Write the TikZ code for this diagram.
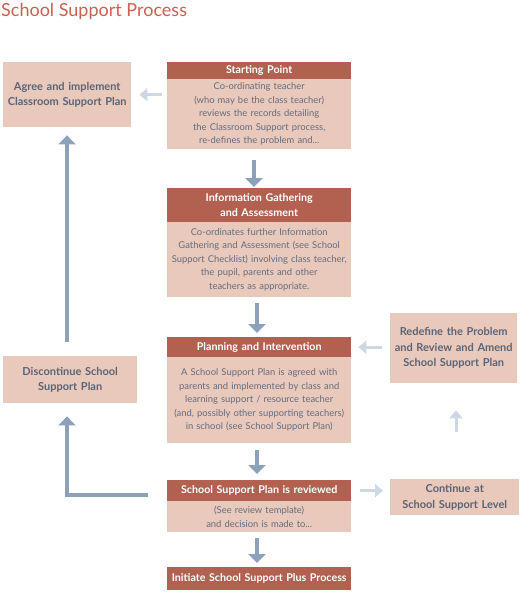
\documentclass[tikz,border=0pt]{standalone}
\usepackage{fontspec}
\setmainfont{Lato}
\usetikzlibrary{arrows.meta}
\definecolor{hdr}{HTML}{B2604F}
\definecolor{bdy}{HTML}{E9C9BC}
\definecolor{ttl}{HTML}{C8624F}
\definecolor{txt}{HTML}{5B6476}
\definecolor{btxt}{HTML}{666C7C}
\definecolor{darkarr}{HTML}{8DA2BA}
\definecolor{lightarr}{HTML}{CDD8E4}
\tikzset{
  hdrbox/.style={anchor=north west, fill=hdr, text=white, inner sep=0pt, align=center,
     font=\fontsize{10.7}{14.5}\selectfont\bfseries},
  bdybox/.style={anchor=north west, fill=bdy, text=btxt, inner sep=0pt, align=center,
     font=\fontsize{9.4}{13.5}\selectfont},
  sidebox/.style={anchor=north west, fill=bdy, text=txt, inner sep=0pt, align=center,
     font=\fontsize{11}{15.5}\selectfont\bfseries},
  darr/.style={draw=darkarr, line width=3.6pt, -{Triangle[width=17pt,length=9pt]}},
  larr/.style={draw=lightarr, line width=3pt, -{Triangle[width=13pt,length=8pt]}},
}
\begin{document}
\begin{tikzpicture}[x=1pt,y=-1pt]
\path[use as bounding box] (0,0) rectangle (522,592);
\node[anchor=base west, text=ttl, inner sep=0pt, font=\fontsize{18}{21}\selectfont] (title) at (1,16) {School Support Process};

% side boxes
\node[sidebox, text width=128pt, minimum height=65pt] (agree) at (3,62) {Agree and implement\\Classroom Support Plan};
\node[sidebox, text width=134pt, minimum height=47pt] (disc) at (3,356) {Discontinue School\\Support Plan};
\node[sidebox, text width=127pt, minimum height=70pt] (redef) at (390,313) {Redefine the Problem\\and Review and Amend\\School Support Plan};
\node[sidebox, text width=129pt, minimum height=36pt] (cont) at (390,479) {Continue at\\School Support Level};

% main column
\node[hdrbox, text width=184pt, minimum height=17pt] (sph) at (167,62) {Starting Point};
\node[bdybox, text width=184pt, minimum height=70pt] (spb) at (167,79) {Co-ordinating teacher\\(who may be the class teacher)\\reviews the records detailing\\the Classroom Support process,\\re-defines the problem and...};

\node[hdrbox, text width=184pt, minimum height=34pt] (igh) at (167,188) {Information Gathering\\and Assessment};
\node[bdybox, text width=184pt, minimum height=75pt] (igb) at (167,222) {Co-ordinates further Information\\Gathering and Assessment (see School\\Support Checklist) involving class teacher,\\the pupil, parents and other\\teachers as appropriate.};

\node[hdrbox, text width=184pt, minimum height=20pt] (plh) at (167,337) {Planning and Intervention};
\node[bdybox, text width=184pt, minimum height=86pt] (plb) at (167,357) {A School Support Plan is agreed with\\parents and implemented by class and\\learning support / resource teacher\\(and, possibly other supporting teachers)\\in school (see School Support Plan)};

\node[hdrbox, text width=184pt, minimum height=21pt] (rvh) at (167,480) {School Support Plan is reviewed};
\node[bdybox, text width=184pt, minimum height=31pt] (rvb) at (167,501) {(See review template)\\and decision is made to...};

\node[hdrbox, text width=184pt, minimum height=23pt] (ini) at (167,567) {Initiate School Support Plus Process};

% dark arrows down the column
\draw[darr, shorten <=11pt, shorten >=1pt] (spb.south -| 254,0) -- (igh.north -| 254,0);
\draw[darr, shorten <=6pt, shorten >=4pt] (igb.south -| 257,0) -- (plh.north -| 257,0);
\draw[darr, shorten <=7pt, shorten >=6pt] (plb.south -| 257,0) -- (rvh.north -| 257,0);
\draw[darr, shorten <=6pt, shorten >=4pt] (rvb.south -| 257,0) -- (ini.north -| 257,0);

% left loop
\coordinate (corner) at (67,495);
\draw[darr, shorten <=19pt, shorten >=13pt] (rvh.west |- corner) -- (corner) -- (disc.south -| corner);
\draw[darr, shorten <=14pt, shorten >=8pt] (disc.north -| corner) -- (agree.south -| corner);

% light arrows
\draw[larr, shorten <=5pt, shorten >=8pt] (sph.west |- agree.east) -- (agree.east);
\draw[larr, shorten <=8pt, shorten >=7pt] (redef.west |- plh.east) -- (plh.east);
\draw[larr, shorten <=9pt, shorten >=7pt] (rvh.east) -- (rvh.east -| cont.west);
\draw[larr, shorten <=47pt, shorten >=27pt] (cont.north -| 456,0) -- (redef.south -| 456,0);
\end{tikzpicture}
\end{document}
